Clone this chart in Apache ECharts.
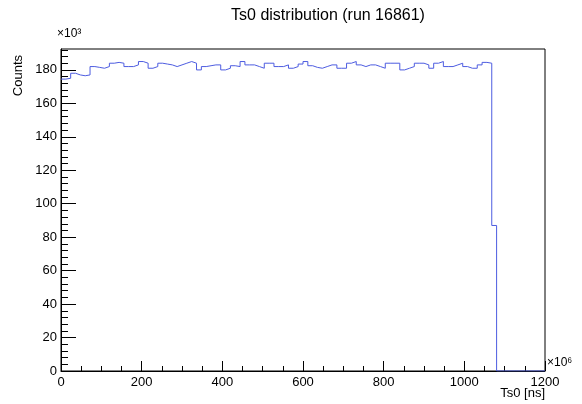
<!DOCTYPE html>
<html>
<head>
<meta charset="utf-8">
<script src="https://cdn.jsdelivr.net/npm/echarts@6/dist/echarts.min.js"></script>
<style>html,body{margin:0;padding:0;background:#fff}#c{width:582px;height:404px}</style>
</head>
<body>
<div id="c"></div>
<script>
// Histogram: 100 bins from 0 to 1200 (x10^6 ns), values in units of 10^3 counts
const binWidth = 12;
const nBins = 100;
const counts = [
  174.5, 175, 178, 177, 176.5, 177, 182, 181.5, 181, 182,
  184, 184.5, 184, 182, 182, 183, 185, 184, 181, 182,
  184, 183.5, 183, 182, 183, 184, 185, 184, 180, 182,
  182.5, 183, 183, 180, 181, 182.5, 182, 185, 183, 183,
  182, 181, 184, 184, 182, 182, 183, 181, 182, 183.5,
  185, 182.5, 181.5, 181, 182, 183, 183, 181, 181, 184,
  185, 183, 182, 183, 183, 182, 181, 184, 184, 184,
  180, 181, 182, 184, 184, 183, 181, 184, 185, 182,
  182, 183, 184, 182, 181, 181, 183, 184.5, 184, 87,
  0, 0, 0, 0, 0, 0, 0, 0, 0, 0
];
const xMin = 0, xMax = 1200, xMajor = 200;
const yMin = 0, yMax = 192.5, yMajor = 20, yMinor = 4;
const yMajorTicks = [0, 20, 40, 60, 80, 100, 120, 140, 160, 180];

const yMinorTicks = [];
for (let v = yMin; v <= yMax; v += yMinor) yMinorTicks.push(v);

const data = [];
for (let i = 0; i < nBins; i++) data.push([i * binWidth, counts[i]]);
data.push([nBins * binWidth, counts[nBins - 1]]);

const font = 'Liberation Sans, Helvetica, Arial, sans-serif';
const chart = echarts.init(document.getElementById('c'), null, {renderer: 'canvas'});
chart.setOption({
  animation: false,
  backgroundColor: '#fff',
  grid: {left: 61, right: 37, top: 49, bottom: 33, show: true, borderColor: '#000', borderWidth: 1, backgroundColor: 'transparent'},
  xAxis: {
    type: 'value', min: xMin, max: xMax, interval: xMajor,
    axisLine: {show: true, onZero: false, lineStyle: {color: '#000', width: 1}},
    axisTick: {show: true, inside: true, length: 10, lineStyle: {color: '#000'}},
    minorTick: {show: true, splitNumber: 4, length: 5, lineStyle: {color: '#000'}},
    splitLine: {show: false},
    axisLabel: {color: '#000', fontSize: 13, fontFamily: font, margin: 5, formatter: v => String(v)}
  },
  yAxis: [{
    type: 'value', min: yMin, max: yMax, interval: yMajor,
    axisLine: {show: true, lineStyle: {color: '#000', width: 1}},
    axisTick: {show: true, inside: true, length: 15, lineStyle: {color: '#000'}, customValues: yMajorTicks},
    splitLine: {show: false},
    axisLabel: {color: '#000', fontSize: 13, fontFamily: font, margin: 4, customValues: yMajorTicks,
      formatter: v => String(v)}
  }, {
    type: 'value', min: yMin, max: yMax, interval: yMinor, position: 'left',
    axisLine: {show: false},
    axisTick: {show: true, inside: true, length: 7, lineStyle: {color: '#000'}, customValues: yMinorTicks},
    splitLine: {show: false},
    axisLabel: {show: false}
  }],
  series: [{
    type: 'line', step: 'end', data: data, yAxisIndex: 0,
    symbol: 'none', lineStyle: {color: '#4d5ce0', width: 1}
  }],
  graphic: [
    {type: 'text', x: 328, y: 8, style: {text: 'Ts0 distribution (run 16861)', font: '16px ' + font, fill: '#000', textAlign: 'center'}},
    {type: 'text', x: 57, y: 28, style: {text: '\u00d710\u00b3', font: '12px ' + font, fill: '#000'}},
    {type: 'text', x: 547, y: 357, style: {text: '\u00d710\u2076', font: '12px ' + font, fill: '#000'}},
    {type: 'text', x: 18, y: 55, rotation: Math.PI / 2, style: {text: 'Counts', font: '13px ' + font, fill: '#000', textAlign: 'right', textVerticalAlign: 'middle'}},
    {type: 'text', x: 545, y: 393, style: {text: 'Ts0 [ns]', font: '13px ' + font, fill: '#000', textAlign: 'right', textVerticalAlign: 'middle'}}
  ]
});
</script>
</body>
</html>
